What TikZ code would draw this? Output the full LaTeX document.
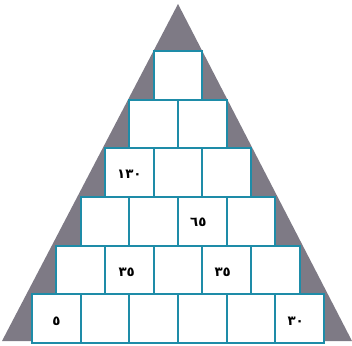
\documentclass[tikz,border=0pt]{standalone}
\usepackage{fontspec}
\newfontfamily\arabicfont[Script=Arabic]{DejaVu Sans}
\definecolor{pyramide}{RGB}{126,122,133}
\definecolor{bord}{RGB}{30,140,168}
\tikzset{
  cell/.style={draw=bord, line width=1.5pt, fill=white, minimum size=36.5pt, inner sep=0pt, outer sep=0pt},
  num/.style={font=\arabicfont\bfseries\fontsize{10}{10}\selectfont, inner sep=0pt}
}
\begin{document}
\begin{tikzpicture}[x=0.75pt, y=-0.75pt]
                \useasboundingbox (0,0) rectangle (352,345);
                \fill[pyramide] (178,4) -- (352,341) -- (2,341) -- cycle;
                
                % Cases de la pyramide
                \foreach \r in {1,...,6} {
                    \foreach \c in {1,...,\r} {
                        \node[cell] (r\r c\c) at ({178 - \r*48.67/2 + (\c-0.5)*48.67}, {51 + (\r-0.5)*48.67}) {};
                    }
                }
                
                \node[num] (n130) at ([yshift=-1pt]r3c1) {١٣٠};
                \node[num] (n65) at ([xshift=-3pt, yshift=-1pt]r4c3) {٦٥};
                \node[num] (n35a) at ([xshift=-2pt, yshift=-2pt]r5c2) {٣٥};
                \node[num] (n35b) at ([xshift=-3pt, yshift=-2pt]r5c4) {٣٥};
                \node[num] (n5) at ([yshift=-2pt]r6c1) {٥};
                \node[num] (n30) at ([xshift=-3pt, yshift=-2pt]r6c6) {٣٠};
            \end{tikzpicture}
\end{document}
